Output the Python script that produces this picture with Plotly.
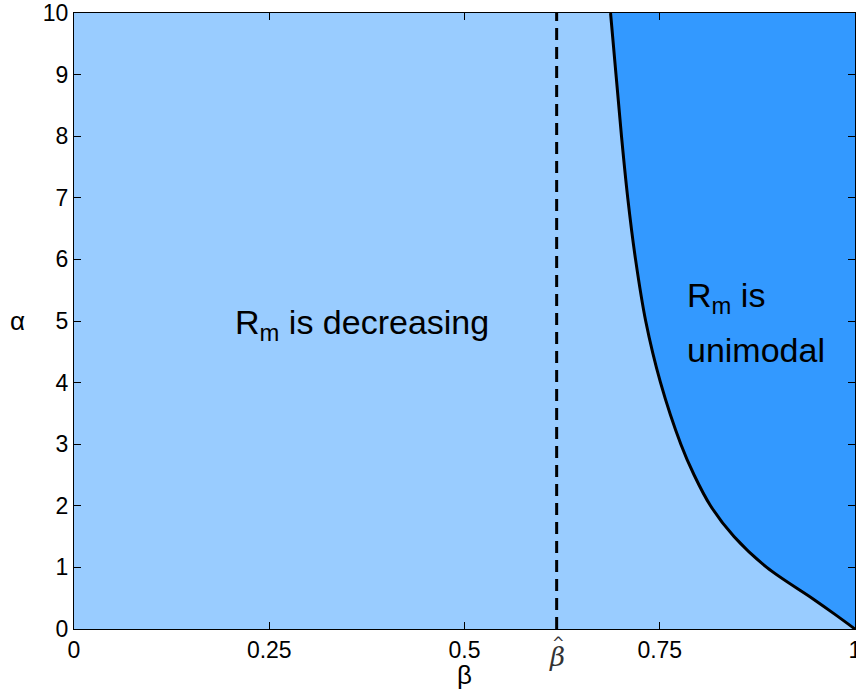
import plotly.graph_objects as go

# Boundary curve between the two regions
curve_alpha = [10, 9, 8, 7, 6, 5, 4, 3, 2.5, 2, 1.5, 1, 0.5, 0.25, 0]
curve_beta = [0.687, 0.694, 0.701, 0.709, 0.719, 0.732, 0.751, 0.777, 0.794, 0.815, 0.845, 0.887, 0.945, 0.973, 1.0]

# Right edge of the plot, used to close the dark region
edge_alpha = [10, 0]
edge_beta = [1, 1]

beta_hat = 0.618
x_tickvals = [0, 0.25, 0.5, beta_hat, 0.75, 1]
x_ticktext = ["0", "0.25", "0.5", "", "0.75", "1"]
y_tickvals = list(range(0, 11))

light_blue = "#99ccff"
dark_blue = "#3399ff"

fig = go.Figure()

fig.add_trace(go.Scatter(
    x=edge_beta, y=edge_alpha, mode="lines",
    line=dict(width=0, color=dark_blue), hoverinfo="skip", showlegend=False,
))
# Curve, filled towards the right edge
fig.add_trace(go.Scatter(
    x=curve_beta, y=curve_alpha, mode="lines",
    fill="tonextx", fillcolor=dark_blue,
    line=dict(color="black", width=3, shape="spline", smoothing=1.0),
    showlegend=False,
))
# Dashed vertical line at beta hat
fig.add_trace(go.Scatter(
    x=[beta_hat, beta_hat], y=[0, 10], mode="lines",
    line=dict(color="black", width=3, dash="12px,7px"),
    showlegend=False,
))

font = "Liberation Sans, Arial, sans-serif"
tickfont = dict(family=font, size=23, color="black")
fig.update_layout(
    width=856, height=696,
    margin=dict(l=74, r=1, t=13, b=67),
    paper_bgcolor="white", plot_bgcolor=light_blue,
    font=dict(family=font, size=22, color="black"),
    xaxis=dict(range=[0, 1], tickvals=x_tickvals, ticktext=x_ticktext, tickfont=tickfont,
               ticks="inside", ticklen=7, tickcolor="black", showline=True,
               linecolor="black", linewidth=1, mirror="ticks", showgrid=False,
               zeroline=False, automargin=False, ticklabeloverflow="allow"),
    yaxis=dict(range=[0, 10], tickvals=y_tickvals, tickfont=tickfont,
               ticks="inside", ticklen=7, tickcolor="black", showline=True,
               linecolor="black", linewidth=1, mirror="ticks", showgrid=False,
               zeroline=False, automargin=False, ticklabeloverflow="allow"),
    annotations=[
        dict(x=0.369, y=4.95, xref="x", yref="y", showarrow=False,
             text="R<sub>m</sub> is decreasing", font=dict(size=34, family=font)),
        dict(x=0.782, y=5.38, xref="x", yref="y", showarrow=False, xanchor="left",
             text="R<sub>m</sub> is", font=dict(size=34, family=font)),
        dict(x=0.782, y=4.53, xref="x", yref="y", showarrow=False, xanchor="left",
             text="unimodal", font=dict(size=34, family=font)),
        dict(x=beta_hat, y=-0.045, xref="x", yref="paper", showarrow=False, yanchor="middle",
             text="<i>β</i>", font=dict(size=26, family="DejaVu Serif, serif", color="#333333")),
        dict(x=beta_hat, y=-0.022, xref="x", yref="paper", showarrow=False, yanchor="middle",
             xshift=2, text="^", font=dict(size=15, family="DejaVu Sans, sans-serif", color="#333333")),
        dict(x=0.5, y=-0.102, xref="paper", yref="paper", showarrow=False,
             text="β", font=dict(size=26, family=font)),
        dict(x=-0.085, y=0.5, xref="paper", yref="paper", showarrow=False,
             text="α", font=dict(size=26, family=font)),
    ],
)

fig.write_html("out.html")
